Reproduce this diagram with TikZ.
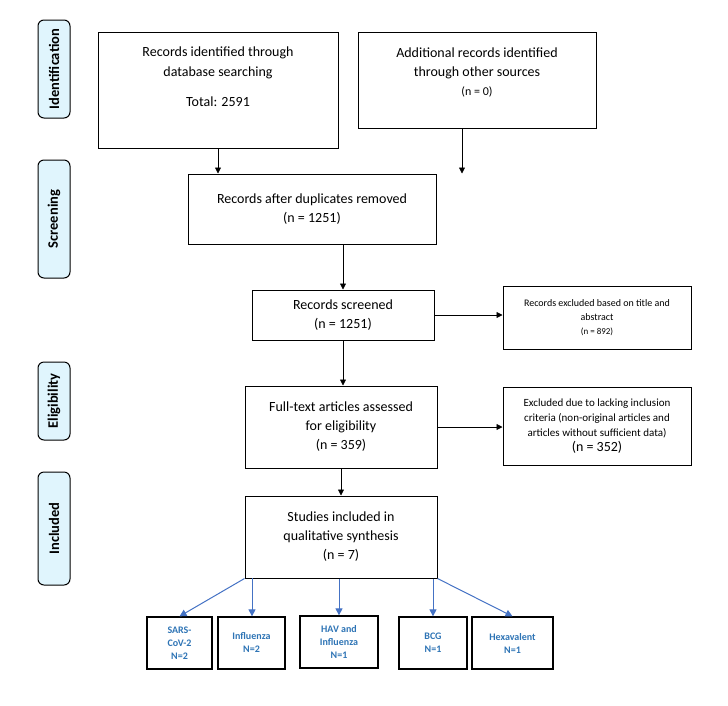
\documentclass[tikz,border=0pt]{standalone}
\usepackage{fontspec}
\setmainfont{Carlito}
\usetikzlibrary{arrows.meta}
\definecolor{ab}{HTML}{4472C4}
\definecolor{tb}{HTML}{2E74B5}
\begin{document}
\begin{tikzpicture}[x=1pt,y=-1pt,
  box/.style={draw,line width=1pt,align=center,font=\fontsize{14}{19}\selectfont},
  sbox/.style={draw,line width=1pt,align=center,font=\fontsize{10}{14}\selectfont},
  vbox/.style={draw,line width=1.3pt,align=center,text=tb,font=\bfseries\fontsize{10}{13}\selectfont},
  tab/.style={draw,line width=1pt,rounded corners=6pt,fill=cyan!12},
  tabt/.style={rotate=90,font=\bfseries\fontsize{14.5}{16}\selectfont},
  arr/.style={-{Triangle[length=6pt,width=6pt]},line width=0.8pt},
  barr/.style={-{Triangle[length=7pt,width=7pt]},line width=1pt,draw=ab}]
\useasboundingbox (0,0) rectangle (728,705);
\foreach \n/\a/\b/\t in {t1/20/118/Identification,t2/160/278/Screening,t3/362/440/Eligibility,t4/472/585/Included}{
  \draw[tab] (38,\a) rectangle (70,\b);
  \node[tabt] (\n) at (54,{(\a+\b)/2}) {\t};
}
\node[box,minimum width=240pt,minimum height=116pt] (b1) at (218,90) {};
\node[font=\fontsize{14}{20}\selectfont,align=center] (b1t) at (218,63) {Records identified through\\database searching};
\node[font=\fontsize{14}{19}\selectfont] (b1n) at (218,102) {Total: 2591};
\node[box,minimum width=238pt,minimum height=96pt] (b2) at (477,80) {};
\node[font=\fontsize{14}{19}\selectfont,align=center] (b2t) at (477,72) {Additional records identified\\through other sources\\{\fontsize{12}{16}\selectfont(n = 0)}};
\node[box,minimum width=248pt,minimum height=70pt] (b3) at (312,209) {Records after duplicates removed\\(n = 1251)};
\node[box,minimum width=182pt,minimum height=50pt] (b4) at (343,315) {Records screened\\(n = 1251)};
\node[sbox,minimum width=188pt,minimum height=63pt] (b5) at (597,318) {Records excluded based on title and\\abstract\\{\fontsize{9}{12}\selectfont(n = 892)}};
\node[sbox,minimum width=188pt,minimum height=78pt,font=\fontsize{11}{15}\selectfont] (b7) at (597,426) {Excluded due to lacking inclusion\\criteria (non-original articles and\\articles without sufficient data)\\{\fontsize{14}{16}\selectfont(n = 352)}};
\node[box,minimum width=192pt,minimum height=82pt] (b6) at (341,427) {Full-text articles assessed\\for eligibility\\(n = 359)};
\node[box,minimum width=192pt,minimum height=82pt] (b8) at (341,537) {Studies included in\\qualitative synthesis\\(n = 7)};
\node[vbox,minimum width=65pt,minimum height=52pt] (v1) at (179.5,643) {SARS-\\CoV-2\\N=2};
\node[vbox,minimum width=67pt,minimum height=52pt] (v2) at (251.5,643) {Influenza\\N=2};
\node[vbox,minimum width=78pt,minimum height=52pt] (v3) at (339,642) {HAV and\\Influenza\\N=1};
\node[vbox,minimum width=68pt,minimum height=52pt] (v4) at (433,643) {BCG\\N=1};
\node[vbox,minimum width=81pt,minimum height=52pt] (v5) at (512.5,643) {Hexavalent\\N=1};
\coordinate (c2) at (462,128);
\coordinate (c8) at (252,578);
\draw[arr] (b1.south) -- (b1.south |- b3.north);
\draw[arr] (c2) -- (c2 |- b3.north);
\draw[arr] (b3.south -| b4.north) -- (b4.north);
\draw[arr] (b4.south) -- (b4.south |- b6.north);
\draw[arr] (b6.south) -- (b6.south |- b8.north);
\draw[arr] (b4.east) -- (b4.east -| b5.west);
\draw[arr] (b6.east) -- (b6.east -| b7.west);
\draw[barr] (b8.south west) -- (v1.north);
\draw[barr] (c8) -- (c8 |- v2.north);
\draw[barr] (v3.north |- b8.south) -- (v3.north);
\draw[barr] (v4.north |- b8.south) -- (v4.north);
\draw[barr] (b8.south east) -- (v5.north);
\end{tikzpicture}
\end{document}
